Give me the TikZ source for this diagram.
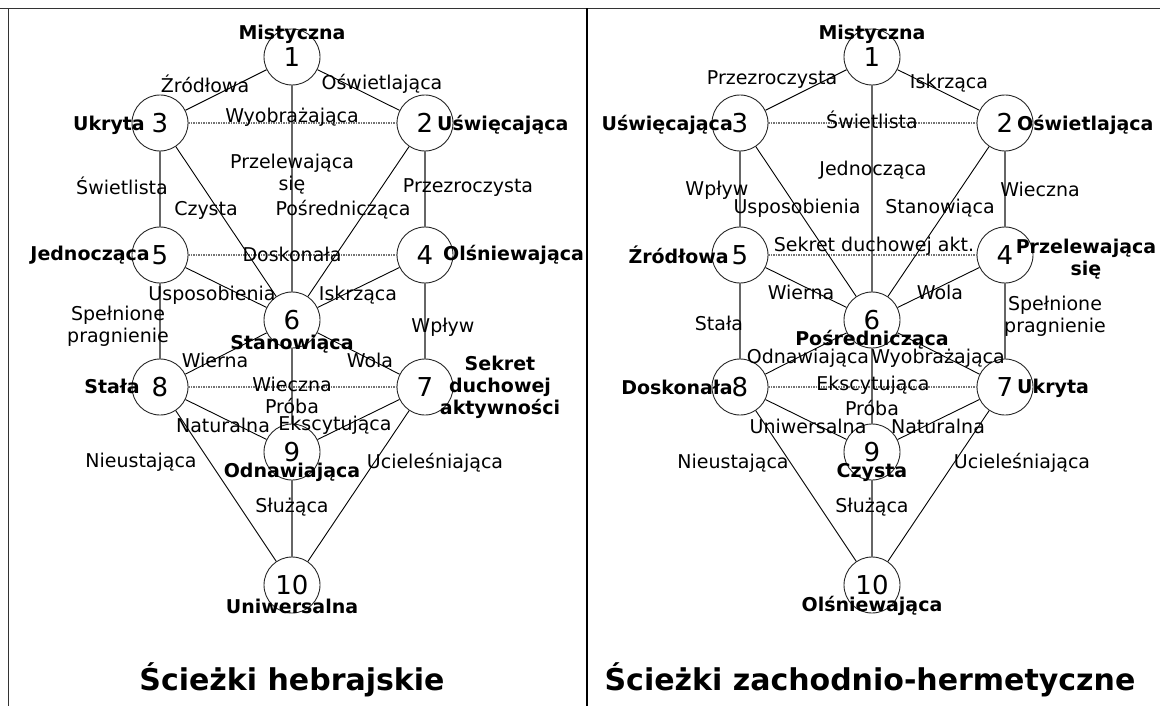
\documentclass[tikz,border=0pt]{standalone}
\usepackage{fontspec}
\setmainfont{DejaVu Sans}

\tikzset{
  sefira/.style={circle,draw=black!85,line width=0.9pt,minimum size=56pt,inner sep=0pt,
    font=\fontsize{26}{26}\selectfont},
  diag/.style={black,line width=0.9pt},
  vert/.style={black!60,line width=1.7pt},
  horiz/.style={black!55,line width=1.2pt,dash pattern=on 1.5pt off 1pt},
  lbl/.style={font=\fontsize{19}{22}\selectfont,inner sep=0pt,align=center},
  sname/.style={font=\fontsize{19}{22}\selectfont\bfseries,inner sep=0pt,align=center},
  title/.style={font=\fontsize{30}{32}\selectfont\bfseries,inner sep=0pt}
}

\begin{document}
\begin{tikzpicture}[x=1pt,y=-1pt,line join=round]
\useasboundingbox (0,0) rectangle (1160,706);
% frame
\draw[black!80,line width=1.5pt](0,8.5)--(1160,8.5);
\draw[black!80,line width=1.5pt](8.5,8.5)--(8.5,706);
\draw[black,line width=2.6pt](587,8.5)--(587,706);

% both trees, same skeleton
\foreach \t/\dx in {h/0,w/580}{
  \node[sefira] (\t1) at (292+\dx,57) {1};
  \node[sefira] (\t2) at (425+\dx,123) {2};
  \node[sefira] (\t3) at (160+\dx,123) {3};
  \node[sefira] (\t4) at (425+\dx,255) {4};
  \node[sefira] (\t5) at (160+\dx,255) {5};
  \node[sefira] (\t6) at (292+\dx,320) {6};
  \node[sefira] (\t7) at (425+\dx,387) {7};
  \node[sefira] (\t8) at (160+\dx,387) {8};
  \node[sefira] (\t9) at (292+\dx,452) {9};
  \node[sefira] (\t10) at (292+\dx,585) {10};
}
\foreach \t in {h,w}{
  \draw[horiz](\t3)--(\t2) (\t5)--(\t4) (\t8)--(\t7);
  \draw[vert](\t1)--(\t6) (\t3)--(\t5) (\t2)--(\t4) (\t5)--(\t8) (\t4)--(\t7) (\t6)--(\t9) (\t9)--(\t10);
  \draw[diag](\t1)--(\t3) (\t1)--(\t2) (\t3)--(\t6) (\t2)--(\t6) (\t5)--(\t6) (\t4)--(\t6)
    (\t6)--(\t8) (\t6)--(\t7) (\t8)--(\t9) (\t7)--(\t9) (\t8)--(\t10) (\t7)--(\t10);
}

% hebrew paths
\node[lbl] (hp13) at (205,84) {Źródłowa};
\node[lbl] (hp12) at (382,84) {Oświetlająca};
\node[lbl] (hp32) at (292,117) {Wyobrażająca};
\node[lbl] (hp16) at (292,174) {Przelewająca\\się};
\node[lbl] (hp35) at (122,186) {Świetlista};
\node[lbl] (hp36) at (206,210) {Czysta};
\node[lbl] (hp26) at (343,210) {Pośrednicząca};
\node[lbl] (hp24) at (468,188) {Przezroczysta};
\node[lbl] (hp54) at (292,254) {Doskonała};
\node[lbl] (hp56) at (212,295) {Usposobienia};
\node[lbl] (hp46) at (358,295) {Iskrząca};
\node[lbl] (hp58) at (118,326) {Spełnione\\pragnienie};
\node[lbl] (hp47) at (443,327) {Wpływ};
\node[lbl] (hp68) at (215,360) {Wierna};
\node[lbl] (hp67) at (370,360) {Wola};
\node[lbl] (hp87) at (292,384) {Wieczna};
\node[lbl] (hp69) at (292,406) {Próba};
\node[lbl] (hp89) at (223,425) {Naturalna};
\node[lbl] (hp79) at (335,425) {Ekscytująca};
\node[lbl] (hp810) at (141,462) {Nieustająca};
\node[lbl] (hp710) at (435,463) {Ucieleśniająca};
\node[lbl] (hp910) at (292,507) {Służąca};

\node[sname] (hn1) at (292,34) {Mistyczna};
\node[sname,anchor=east] (hn3) at (145,125) {Ukryta};
\node[sname,anchor=west] (hn2) at (437,125) {Uświęcająca};
\node[sname,anchor=east] (hn5) at (150,255) {Jednocząca};
\node[sname,anchor=west] (hn4) at (443,255) {Olśniewająca};
\node[sname] (hn6) at (292,344) {Stanowiąca};
\node[sname,anchor=east] (hn8) at (140,386) {Stała};
\node[sname] (hn7) at (500,387) {Sekret\\duchowej\\aktywności};
\node[sname] (hn9) at (292,472) {Odnawiająca};
\node[sname] (hn10) at (292,606) {Uniwersalna};
\node[title] (htitle) at (292,680) {Ścieżki hebrajskie};

% western hermetic paths
\node[lbl] (wp13) at (772,80) {Przezroczysta};
\node[lbl] (wp12) at (949,83) {Iskrząca};
\node[lbl] (wp32) at (872,120) {Świetlista};
\node[lbl] (wp16) at (873,170) {Jednocząca};
\node[lbl] (wp35) at (717,190) {Wpływ};
\node[lbl] (wp36) at (797,208) {Usposobienia};
\node[lbl] (wp26) at (940,208) {Stanowiąca};
\node[lbl] (wp24) at (1040,189) {Wieczna};
\node[lbl] (wp54) at (874,246) {Sekret duchowej akt.};
\node[lbl] (wp56) at (801,292) {Wierna};
\node[lbl] (wp46) at (940,292) {Wola};
\node[lbl] (wp58) at (719,323) {Stała};
\node[lbl] (wp47) at (1055,316) {Spełnione\\pragnienie};
\node[lbl] (wp68) at (808,358) {Odnawiająca};
\node[lbl] (wp67) at (938,358) {Wyobrażająca};
\node[lbl] (wp87) at (873,385) {Ekscytująca};
\node[lbl] (wp69) at (872,408) {Próba};
\node[lbl] (wp89) at (808,426) {Uniwersalna};
\node[lbl] (wp79) at (938,426) {Naturalna};
\node[lbl] (wp810) at (733,463) {Nieustająca};
\node[lbl] (wp710) at (1022,463) {Ucieleśniająca};
\node[lbl] (wp910) at (872,507) {Służąca};

\node[sname] (wn1) at (872,34) {Mistyczna};
\node[sname,anchor=east] (wn3) at (733,125) {Uświęcająca};
\node[sname,anchor=west] (wn2) at (1017,125) {Oświetlająca};
\node[sname,anchor=east] (wn5) at (729,255) {Źródłowa};
\node[sname] (wn4) at (1086,259) {Przelewająca\\się};
\node[sname] (wn6) at (872,340) {Pośrednicząca};
\node[sname,anchor=east] (wn8) at (733,387) {Doskonała};
\node[sname,anchor=west] (wn7) at (1017,388) {Ukryta};
\node[sname] (wn9) at (872,472) {Czysta};
\node[sname] (wn10) at (872,606) {Olśniewająca};
\node[title] (wtitle) at (870,680) {Ścieżki zachodnio-hermetyczne};
\end{tikzpicture}
\end{document}
